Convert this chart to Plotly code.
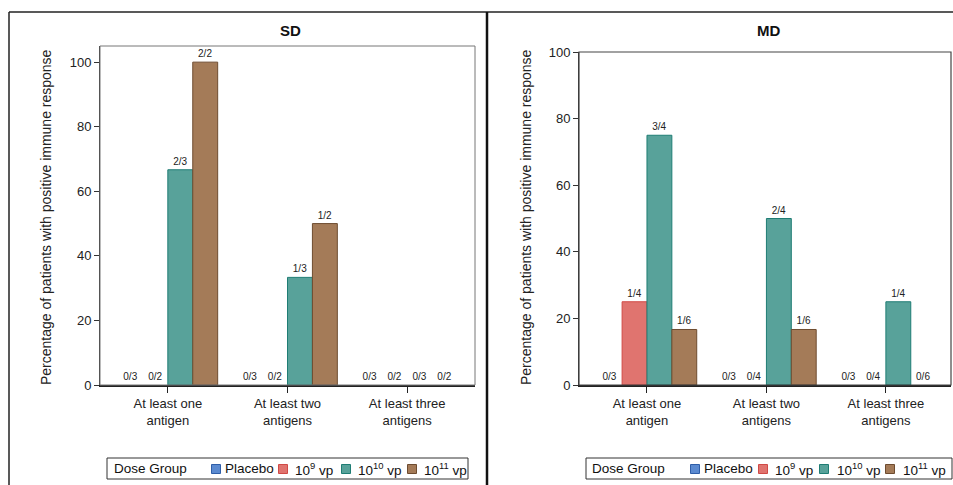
import plotly.graph_objects as go

W, H = 953, 485

categories = ["At least one<br>antigen", "At least two<br>antigens", "At least three<br>antigens"]
groups = ["Placebo", "10<sup>9</sup> vp", "10<sup>10</sup> vp", "10<sup>11</sup> vp"]
fill_colors = ["#5b8ad0", "#e0746f", "#58a29a", "#a47b58"]
line_colors = ["#2f5ea8", "#d04a46", "#1f7d74", "#6e4c30"]

# SD panel: percentages and n/N labels per dose group (order of categories)
sd_values = {
    "Placebo": [0, 0, 0],
    "10<sup>9</sup> vp": [0, 0, 0],
    "10<sup>10</sup> vp": [66.67, 33.33, 0],
    "10<sup>11</sup> vp": [100, 50, 0],
}
sd_labels = {
    "Placebo": ["0/3", "0/3", "0/3"],
    "10<sup>9</sup> vp": ["0/2", "0/2", "0/2"],
    "10<sup>10</sup> vp": ["2/3", "1/3", "0/3"],
    "10<sup>11</sup> vp": ["2/2", "1/2", "0/2"],
}
# MD panel
md_values = {
    "Placebo": [0, 0, 0],
    "10<sup>9</sup> vp": [25, 0, 0],
    "10<sup>10</sup> vp": [75, 50, 25],
    "10<sup>11</sup> vp": [16.67, 16.67, 0],
}
md_labels = {
    "Placebo": ["0/3", "0/3", "0/3"],
    "10<sup>9</sup> vp": ["1/4", "0/4", "0/4"],
    "10<sup>10</sup> vp": ["3/4", "2/4", "1/4"],
    "10<sup>11</sup> vp": ["1/6", "1/6", "0/6"],
}

FONT = "Liberation Sans, Arial, sans-serif"

fig = go.Figure()

def add_panel(values, labels, xa, ya):
    for gi, g in enumerate(groups):
        vals = values[g]
        fig.add_trace(go.Bar(
            x=categories, y=vals, name=g, text=labels[g],
            textposition="outside", cliponaxis=False,
            textfont=dict(size=10, color="#222", family=FONT),
            marker=dict(color=fill_colors[gi],
                        line=dict(color=line_colors[gi], width=[1 if v > 0 else 0 for v in vals])),
            xaxis=xa, yaxis=ya, offsetgroup=str(gi), showlegend=False,
        ))

add_panel(sd_values, sd_labels, "x", "y")
add_panel(md_values, md_labels, "x2", "y2")

def px_x(p):
    return p / W

def px_y(p):
    return 1 - p / H

xax = dict(type="category", showline=True, linecolor="#222", linewidth=1.5,
           ticks="outside", ticklen=6, tickcolor="#222", showgrid=False, zeroline=False,
           automargin=False,
           tickfont=dict(size=13, color="#222", family=FONT), fixedrange=True)
yax = dict(showline=True, linecolor="#333", linewidth=1, ticks="outside", ticklen=5,
           tickcolor="#333", showgrid=False, zeroline=False, tickvals=[0, 20, 40, 60, 80, 100],
           automargin=False,
           tickfont=dict(size=13, color="#222", family=FONT), fixedrange=True)

fig.update_layout(
    width=W, height=H, margin=dict(l=0, r=0, t=0, b=0, autoexpand=False),
    paper_bgcolor="white", plot_bgcolor="white",
    font=dict(family=FONT, color="#222"),
    barmode="group", bargap=0.167, bargroupgap=0,
    xaxis=dict(xax, domain=[px_x(100), px_x(475)], range=[-0.567, 2.567], anchor="y"),
    yaxis=dict(yax, domain=[px_y(385), px_y(46)], range=[0, 105], anchor="x"),
    xaxis2=dict(xax, domain=[px_x(579), px_x(951)], range=[-0.569, 2.545], anchor="y2"),
    yaxis2=dict(yax, domain=[px_y(385), px_y(52)], range=[0, 100], anchor="x2"),
    showlegend=False,
)

shapes = [
    # outer panel borders
    dict(type="line", xref="paper", yref="paper", x0=px_x(9), x1=1.0, y0=px_y(12), y1=px_y(12),
         line=dict(color="#222", width=1.5)),
    dict(type="line", xref="paper", yref="paper", x0=px_x(9), x1=px_x(9), y0=px_y(12), y1=0,
         line=dict(color="#222", width=1.5)),
    dict(type="line", xref="paper", yref="paper", x0=px_x(487), x1=px_x(487), y0=px_y(12), y1=0,
         line=dict(color="#111", width=2.5)),
    # plot frames (top/right)
    dict(type="rect", xref="x domain", yref="y domain", x0=0, x1=1, y0=0, y1=1,
         line=dict(color="#777", width=1)),
    dict(type="rect", xref="x2 domain", yref="y2 domain", x0=0, x1=1, y0=0, y1=1,
         line=dict(color="#444", width=1.2)),
]

ytitle = "Percentage of patients with positive immune response"
annotations = [
    dict(text="<b>SD</b>", x=px_x(290), y=px_y(31), xref="paper", yref="paper",
         xanchor="center", yanchor="middle",
         showarrow=False, font=dict(size=15, color="#111", family=FONT)),
    dict(text="<b>MD</b>", x=px_x(768), y=px_y(31), xref="paper", yref="paper",
         xanchor="center", yanchor="middle",
         showarrow=False, font=dict(size=15, color="#111", family=FONT)),
    dict(text=ytitle, x=px_x(46), y=px_y(217), xref="paper", yref="paper", textangle=-90,
         xanchor="center", yanchor="middle",
         showarrow=False, font=dict(size=14, color="#222", family=FONT)),
    dict(text=ytitle, x=px_x(526), y=px_y(217), xref="paper", yref="paper", textangle=-90,
         xanchor="center", yanchor="middle",
         showarrow=False, font=dict(size=14, color="#222", family=FONT)),
]

# Legends (one per panel): box, title, swatches and labels
legend_title = "Dose Group"
legend_specs = [
    # (box left, box right, title x, swatch centres, label starts)
    (107, 468, 112, [216, 283, 346, 412], [223, 293, 356, 422]),
    (586, 952, 590, [695, 763, 824, 890], [702, 773, 835, 901]),
]
ly_top, ly_bot, ly_mid = 458, 479, 468.5
for box_l, box_r, title_x, sw_c, lab_x in legend_specs:
    shapes.append(dict(type="rect", xref="paper", yref="paper",
                       x0=px_x(box_l), x1=px_x(box_r), y0=px_y(ly_bot), y1=px_y(ly_top),
                       line=dict(color="#333", width=1), fillcolor="white", layer="above"))
    annotations.append(dict(text=legend_title, x=px_x(title_x), y=px_y(ly_mid), xref="paper",
                            yref="paper", xanchor="left", yanchor="middle", showarrow=False,
                            font=dict(size=13.5, color="#111", family=FONT)))
    for gi, g in enumerate(groups):
        c = sw_c[gi]
        shapes.append(dict(type="rect", xref="paper", yref="paper",
                           x0=px_x(c - 4.5), x1=px_x(c + 4.5), y0=px_y(ly_mid + 5),
                           y1=px_y(ly_mid - 4), fillcolor=fill_colors[gi],
                           line=dict(color=line_colors[gi], width=1), layer="above"))
        annotations.append(dict(text=g, x=px_x(lab_x[gi]), y=px_y(ly_mid), xref="paper",
                                yref="paper", xanchor="left", yanchor="middle", showarrow=False,
                                font=dict(size=13.5, color="#111", family=FONT)))

fig.update_layout(shapes=shapes, annotations=annotations)

# Remove the default page margin/scrollbars so the figure fills the window exactly.
fig.write_html(
    "out.html",
    config={"displayModeBar": False},
    post_script="document.body.style.margin='0';document.body.style.overflow='hidden';",
)
